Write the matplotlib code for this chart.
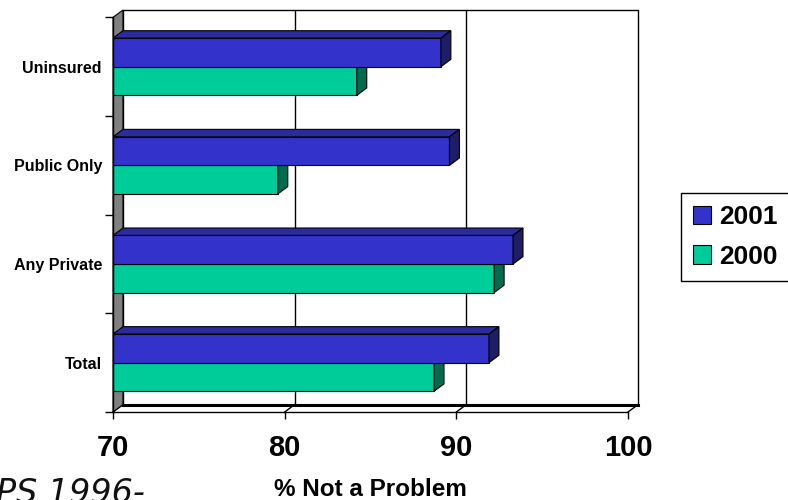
import matplotlib.pyplot as plt
from matplotlib.patches import Patch, Polygon, Rectangle

plt.rcParams["font.family"] = ["Liberation Sans", "DejaVu Sans"]

categories = ["Total", "Any Private", "Public Only", "Uninsured"]
series_names = ["2001", "2000"]
vals_2001 = [91.9, 93.3, 89.6, 89.1]
vals_2000 = [88.7, 92.2, 79.6, 84.2]
x_ticks = [70, 80, 90, 100]

X0, X1 = 70, 100
DX, DY = 0.58, 0.075          # depth offset of the back plane (data units)
BAR_H = 0.29

front = {"2001": "#3333cc", "2000": "#00cc99"}
top = {"2001": "#2b2ba0", "2000": "#00a07a"}
side = {"2001": "#1e1e66", "2000": "#006b4f"}

fig = plt.figure(figsize=(7.88, 5.0), dpi=100)
ax = fig.add_axes([113 / 788, (500 - 412) / 500,
                   (638 - 113) / 788, (412 - 10) / 500])
ax.set_xlim(X0, X1 + DX)
ax.set_ylim(0, len(categories) + DY)
ax.set_facecolor("none")
n = len(categories)

# back wall with vertical gridlines
ax.add_patch(Rectangle((X0 + DX, DY), X1 - X0, n, facecolor="white",
                       edgecolor="black", lw=1.0, zorder=0, clip_on=False))
for v in x_ticks[1:-1]:
    ax.plot([v + DX, v + DX], [DY, n + DY], color="black", lw=1.0, zorder=0.5)

# floor
ax.add_patch(Polygon([(X0, 0), (X1, 0), (X1 + DX, DY), (X0 + DX, DY)],
                     closed=True, facecolor="white", edgecolor="none", zorder=0.6))
ax.plot([X0 + DX, X1 + DX], [DY, DY], color="black", lw=2.2, zorder=0.7,
        clip_on=False)
for v in x_ticks:
    ax.plot([v, v + DX], [0, DY], color="black", lw=1.0, zorder=0.7,
            clip_on=False)

# left side wall
ax.add_patch(Polygon([(X0, 0), (X0 + DX, DY), (X0 + DX, n + DY), (X0, n)],
                     closed=True, facecolor="#808080", edgecolor="black",
                     lw=0.8, zorder=0.8, clip_on=False))


def draw_bars(values, name, offset):
    for i, v in enumerate(values):
        y = i + 0.5 + offset
        ax.barh(y, v - X0, left=X0, height=BAR_H, align="edge",
                color=front[name], edgecolor="black", lw=0.8, zorder=2)
        yt = y + BAR_H
        ax.add_patch(Polygon([(X0, yt), (v, yt), (v + DX, yt + DY),
                              (X0 + DX, yt + DY)], closed=True,
                             facecolor=top[name], edgecolor="black",
                             lw=0.8, zorder=2))
        ax.add_patch(Polygon([(v, y), (v + DX, y + DY), (v + DX, yt + DY),
                              (v, yt)], closed=True, facecolor=side[name],
                             edgecolor="black", lw=0.8, zorder=2))


draw_bars(vals_2000, "2000", -BAR_H)
draw_bars(vals_2001, "2001", 0.0)

# axes: front edges of the box
for s in ["top", "right"]:
    ax.spines[s].set_visible(False)
ax.spines["bottom"].set_bounds(X0, X1)
ax.spines["left"].set_bounds(0, n)
ax.spines["bottom"].set_linewidth(1.0)
ax.spines["left"].set_linewidth(1.0)

ax.set_xticks(x_ticks)
ax.set_xticklabels([str(t) for t in x_ticks], fontsize=21, fontweight="bold")
ax.tick_params(axis="x", length=5, width=1.0, pad=11)

ax.set_yticks(range(n + 1))
ax.set_yticklabels([])
ax.tick_params(axis="y", which="major", length=6, width=1.0)
ax.set_yticks([i + 0.5 for i in range(n)], minor=True)
ax.set_yticklabels(categories, minor=True, fontsize=11.5, fontweight="bold")
ax.tick_params(axis="y", which="minor", length=0, pad=8)

ax.set_xlabel("% Not a Problem", fontsize=17.5, fontweight="bold")
ax.xaxis.set_label_coords((370 - 113) / 525, -66 / 402)

handles = [Patch(facecolor=front[s], edgecolor="black", lw=0.8)
           for s in series_names]
leg = fig.legend(handles, series_names, loc="upper left",
                 bbox_to_anchor=(681 / 788, (500 - 193) / 500),
                 prop={"size": 19, "weight": "bold"}, frameon=True,
                 fancybox=False, framealpha=1, edgecolor="black",
                 handlelength=0.68, handleheight=0.68, handletextpad=0.3,
                 labelspacing=0.6, borderpad=0.45, borderaxespad=0)
leg.get_frame().set_linewidth(1.0)

fig.text(-4 / 788, (500 - 477) / 500, "PS 1996-", fontsize=24,
         style="italic", family="DejaVu Sans", color="#111111",
         ha="left", va="top")

fig.savefig("out.png", dpi=100)
